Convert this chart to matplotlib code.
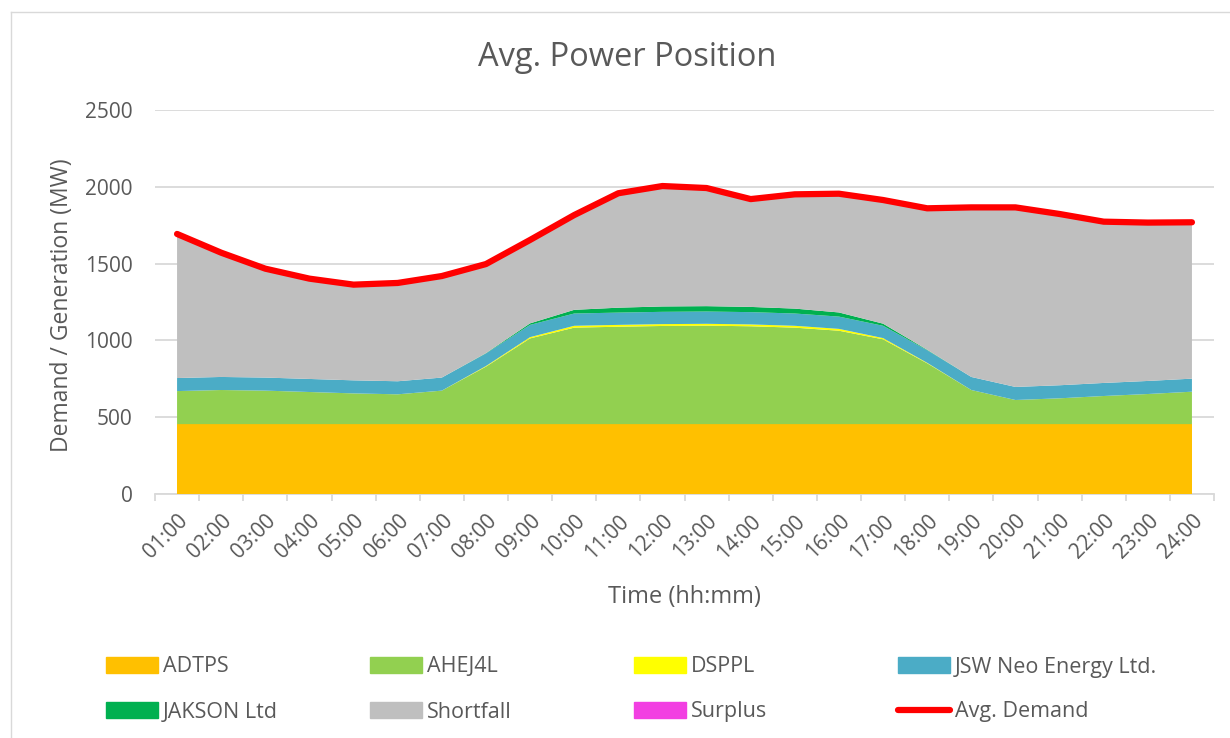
import matplotlib
matplotlib.use('Agg')
import matplotlib.pyplot as plt
from matplotlib.lines import Line2D
from matplotlib.patches import Patch
import numpy as np

# Average hourly power position (MW)
hours = ['01:00', '02:00', '03:00', '04:00', '05:00', '06:00', '07:00', '08:00',
         '09:00', '10:00', '11:00', '12:00', '13:00', '14:00', '15:00', '16:00',
         '17:00', '18:00', '19:00', '20:00', '21:00', '22:00', '23:00', '24:00']
adtps = [455, 455, 455, 455, 455, 455, 455, 455, 455, 455, 455, 455,
         455, 455, 455, 455, 455, 455, 455, 455, 455, 455, 455, 455]
ahej4l = [215, 222, 218, 209, 200, 194, 218, 374, 558, 628, 634, 639,
          641, 637, 628, 608, 552, 396, 222, 157, 168, 183, 196, 211]
dsppl = [0, 0, 0, 0, 0, 0, 0, 4, 8, 12, 12, 12,
         12, 12, 12, 12, 8, 3, 0, 0, 0, 0, 0, 0]
jsw = [85, 85, 85, 85, 85, 85, 85, 82, 80, 80, 80, 80,
       80, 80, 80, 80, 80, 82, 85, 85, 85, 85, 85, 85]
jakson = [0, 0, 0, 0, 0, 0, 0, 2, 10, 24, 32, 35,
          35, 34, 32, 27, 14, 3, 0, 0, 0, 0, 0, 0]
shortfall = [938, 809, 709, 653, 623, 640, 661, 580, 543, 617, 745, 784,
             769, 702, 744, 773, 805, 921, 1104, 1169, 1115, 1050, 1031, 1018]
surplus = [0, 0, 0, 0, 0, 0, 0, 0, 0, 0, 0, 0,
           0, 0, 0, 0, 0, 0, 0, 0, 0, 0, 0, 0]
demand = [1693, 1571, 1467, 1402, 1363, 1374, 1419, 1497, 1654, 1816, 1958, 2005,
          1992, 1920, 1951, 1955, 1914, 1860, 1866, 1866, 1823, 1773, 1767, 1769]

names = ['ADTPS', 'AHEJ4L', 'DSPPL', 'JSW Neo Energy Ltd.', 'JAKSON Ltd', 'Shortfall', 'Surplus']
colors = ['#FFC000', '#92D050', '#FFFF00', '#4BACC6', '#00B050', '#BFBFBF', '#F23FE2']

txt = '#595959'
grid = '#D9D9D9'
plt.rcParams['font.family'] = ['Open Sans', 'DejaVu Sans']

W, H = 1230, 738
fig = plt.figure(figsize=(W / 100, H / 100), dpi=100)
ax = fig.add_axes([155 / W, 1 - 494 / H, (1214 - 155) / W, (494 - 110) / H])

x = np.arange(len(hours))
ax.stackplot(x, adtps, ahej4l, dsppl, jsw, jakson, shortfall, surplus,
             colors=colors, linewidth=0)
ax.plot(x, demand, color='#FF0000', lw=4.5, solid_capstyle='round',
        solid_joinstyle='round', zorder=5)

ax.set_xlim(-0.5, len(hours) - 0.5)
ax.set_ylim(0, 2500)
ax.set_yticks(np.arange(0, 2501, 500))
ax.yaxis.grid(True, color=grid, lw=1.3)
ax.set_axisbelow(True)
for s in ['top', 'right', 'left']:
    ax.spines[s].set_visible(False)
ax.spines['bottom'].set_color(grid)
ax.spines['bottom'].set_linewidth(1.3)
ax.spines['bottom'].set_zorder(0)

ax.set_xticks(x)
ax.set_xticklabels(hours, rotation=45, ha='right', va='top', rotation_mode='anchor')
ax.set_xticks(np.arange(-0.5, len(hours)), minor=True)
ax.tick_params(axis='x', which='major', length=0, pad=12, labelsize=15, labelcolor=txt)
ax.tick_params(axis='x', which='minor', length=5, width=1.3, color=grid)
ax.tick_params(axis='y', length=0, pad=16, labelsize=15, labelcolor=txt)

ax.set_xlabel('Time (hh:mm)', fontsize=17, color=txt, labelpad=16)
fig.text(62 / W, 1 - 305 / H, 'Demand / Generation (MW)', rotation=90,
         ha='center', va='center', fontsize=16.5, color=txt)
fig.text(627 / W, 1 - 58 / H, 'Avg. Power Position', ha='center', va='center',
         fontsize=23.5, color=txt)

# chart border (top and left edges visible in the reference)
fig.add_artist(Line2D([10.5 / W, 1], [1 - 11.5 / H, 1 - 11.5 / H], color=grid, lw=1))
fig.add_artist(Line2D([10.5 / W, 10.5 / W], [0, 1 - 11.5 / H], color=grid, lw=1))

# legend, laid out as a 4 x 2 grid
handles = [Patch(color=c) for c in colors] + [
    Line2D([], [], color='#FF0000', lw=4.5, solid_capstyle='round')]
labels = names + ['Avg. Demand']
col_x = [106, 370, 634, 898]
row_y = [667, 712]
for i, (h, lab) in enumerate(zip(handles, labels)):
    fig.legend([h], [lab], loc='center left',
               bbox_to_anchor=(col_x[i % 4] / W, 1 - row_y[i // 4] / H),
               frameon=False, borderpad=0, borderaxespad=0, handlelength=2.4,
               handleheight=0.7, handletextpad=0.25, fontsize=15.5, labelcolor=txt)

fig.savefig('out.png', dpi=100)
